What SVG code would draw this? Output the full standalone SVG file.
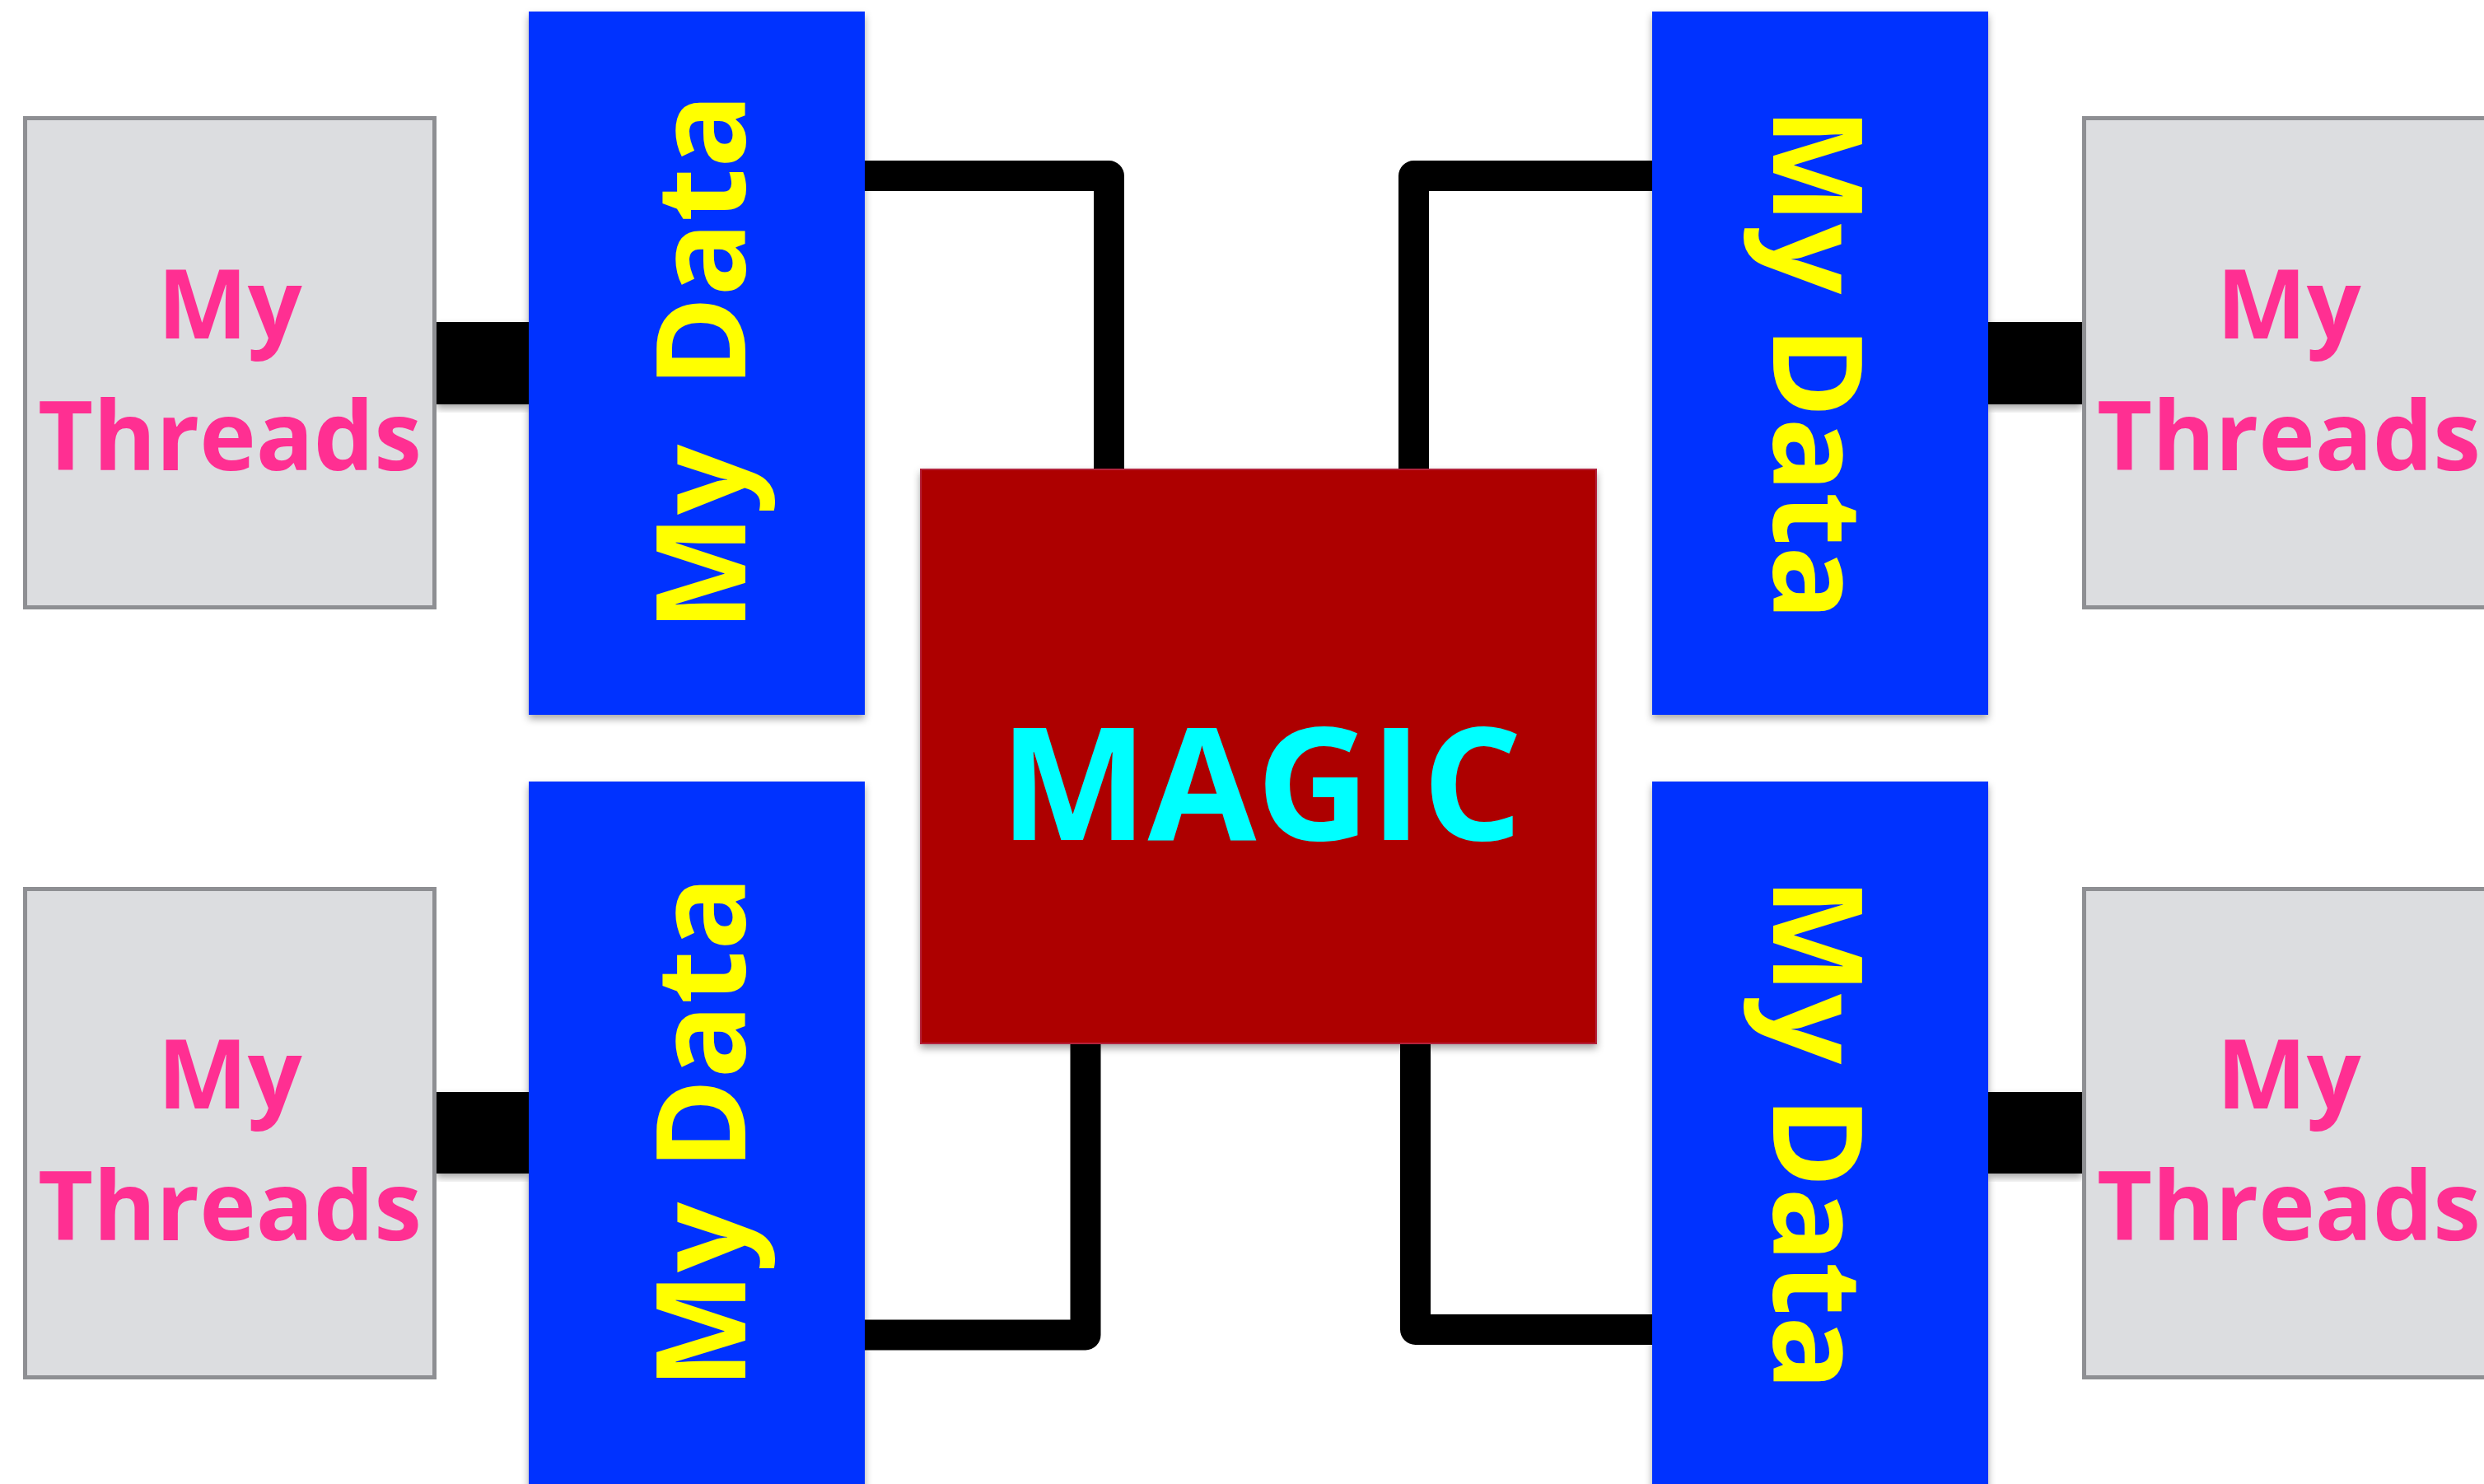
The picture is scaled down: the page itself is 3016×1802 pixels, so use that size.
<svg xmlns="http://www.w3.org/2000/svg" width="3016" height="1802" viewBox="0 0 3016 1802">
<defs>
<filter id="sh" x="-10%" y="-10%" width="120%" height="120%">
<feDropShadow dx="0" dy="5" stdDeviation="5" flood-color="#000" flood-opacity="0.35"/>
</filter>
<style>
.thr{fill:#dcdde0;stroke:#8e8f93;stroke-width:5}
.thrt{font-family:"Open Sans","Noto Sans",sans-serif;font-weight:bold;font-size:116px;fill:#ff2f92;text-anchor:middle}
.data{fill:#0433ff;filter:url(#sh)}
.datat{font-family:"Open Sans","Noto Sans",sans-serif;font-weight:bold;font-size:150px;fill:#ffff00;text-anchor:middle}
.wide{word-spacing:30px}
.bar{fill:#000;filter:url(#sh)}
.wire{fill:none;stroke:#000;stroke-width:37;stroke-linejoin:round}
.magic{fill:#ad0000;stroke:#b3203a;stroke-width:2;filter:url(#sh)}
.magict{font-family:"Open Sans","Noto Sans",sans-serif;font-weight:bold;font-size:191px;fill:#00ffff;text-anchor:middle}
</style>
</defs>
<rect width="3016" height="1802" fill="#ffffff"/>
<g id="connectors">
<path class="wire" d="M1040,213.5 H1346.5 V580"/>
<path class="wire" d="M2016,213.5 H1716.5 V580"/>
<path class="wire" d="M1040,1621 H1318 V1257"/>
<path class="wire" d="M2016,1614.5 H1718.5 V1257"/>
<rect class="bar" x="530" y="391" width="112" height="100"/>
<rect class="bar" x="530" y="1326" width="112" height="99"/>
<rect class="bar" x="2414" y="391" width="114" height="100"/>
<rect class="bar" x="2414" y="1326" width="114" height="99"/>
</g>
<g id="threads-tl">
<rect class="thr" x="30.5" y="143.5" width="497" height="594"/>
<text class="thrt" x="279" y="411"><tspan x="279">My</tspan><tspan x="279" y="571">Threads</tspan></text>
</g>
<g id="threads-bl">
<rect class="thr" x="30.5" y="1079.5" width="497" height="593"/>
<text class="thrt" x="279" y="1346"><tspan x="279">My</tspan><tspan x="279" y="1506">Threads</tspan></text>
</g>
<g id="threads-tr">
<rect class="thr" x="2530.5" y="143.5" width="497" height="594"/>
<text class="thrt" x="2779" y="411"><tspan x="2779">My</tspan><tspan x="2779" y="571">Threads</tspan></text>
</g>
<g id="threads-br">
<rect class="thr" x="2530.5" y="1079.5" width="497" height="593"/>
<text class="thrt" x="2779" y="1346"><tspan x="2779">My</tspan><tspan x="2779" y="1506">Threads</tspan></text>
</g>
<g id="data-tl">
<rect class="data" x="642" y="14" width="408" height="854"/>
<text class="datat wide" transform="translate(905,440) rotate(-90)">My Data</text>
</g>
<g id="data-bl">
<rect class="data" x="642" y="949" width="408" height="860"/>
<text class="datat" transform="translate(905,1375) rotate(-90)">My Data</text>
</g>
<g id="data-tr">
<rect class="data" x="2006" y="14" width="408" height="854"/>
<text class="datat" transform="translate(2153,442) rotate(90)">My Data</text>
</g>
<g id="data-br">
<rect class="data" x="2006" y="949" width="408" height="860"/>
<text class="datat" transform="translate(2153,1377) rotate(90)">My Data</text>
</g>
<g id="magic">
<rect class="magic" x="1118" y="570" width="820" height="697"/>
<text class="magict" x="1531" y="1020">MAGIC</text>
</g>
</svg>
